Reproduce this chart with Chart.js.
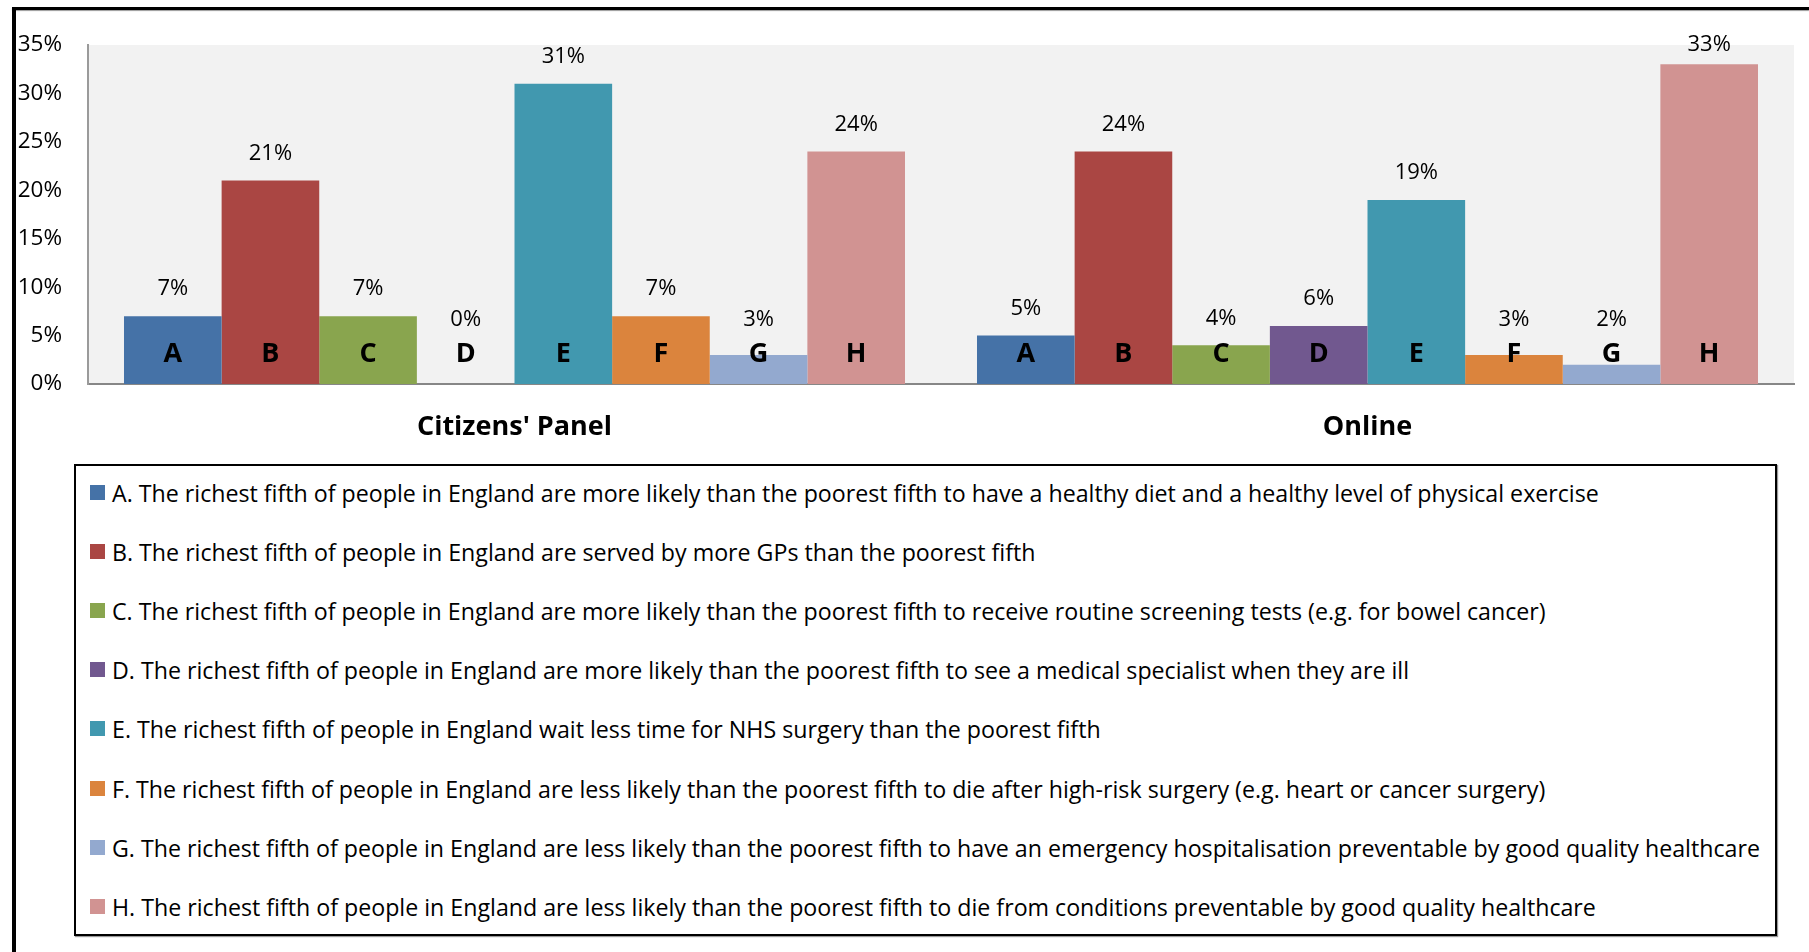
<!DOCTYPE html>
<html>
<head>
<meta charset="utf-8">
<script src="https://cdn.jsdelivr.net/npm/chart.js@4.4.1/dist/chart.umd.min.js"></script>
<style>
    html, body { margin: 0; padding: 0; background: #fff; }
    body { width: 1809px; height: 952px; position: relative; overflow: hidden; font-family: 'Open Sans', sans-serif; }
    #frame-top { position: absolute; left: 12px; top: 7px; width: 1797px; height: 3px; background: #000; box-shadow: 0 1px 1px #999; }
    #frame-left { position: absolute; left: 12px; top: 7px; width: 4px; height: 945px; background: #000; }
    #chart-box { position: absolute; left: 0; top: 0; width: 1809px; height: 460px; }
    #legend { position: absolute; left: 74px; top: 464px; width: 1699px; height: 468px; border: 2px solid #000; box-shadow: 1px 1px 1px #999; }
    .legend-row { position: absolute; left: 0; height: 30px; line-height: 30px; white-space: nowrap; font-size: 23.2px; color: #000; }
    .legend-row span.box { position: absolute; left: 14px; top: 7px; width: 15px; height: 15px; }
    .legend-row span.txt { position: absolute; left: 36px; top: 0; }
</style>
</head>
<body>
<div id="frame-top"></div>
<div id="frame-left"></div>
<div id="chart-box"><canvas id="chart"></canvas></div>
<div id="legend"></div>
<script>
// Données
const groups = ["Citizens' Panel", 'Online'];
const letters = ['A', 'B', 'C', 'D', 'E', 'F', 'G', 'H'];
const statements = [
    'A. The richest fifth of people in England are more likely than the poorest fifth to have a healthy diet and a healthy level of physical exercise',
    'B. The richest fifth of people in England are served by more GPs than the poorest fifth',
    'C. The richest fifth of people in England are more likely than the poorest fifth to receive routine screening tests (e.g. for bowel cancer)',
    'D. The richest fifth of people in England are more likely than the poorest fifth to see a medical specialist when they are ill',
    'E. The richest fifth of people in England wait less time for NHS surgery than the poorest fifth',
    'F. The richest fifth of people in England are less likely than the poorest fifth to die after high-risk surgery (e.g. heart or cancer surgery)',
    'G. The richest fifth of people in England are less likely than the poorest fifth to have an emergency hospitalisation preventable by good quality healthcare',
    'H. The richest fifth of people in England are less likely than the poorest fifth to die from conditions preventable by good quality healthcare'
];
const citizensPanel = [7, 21, 7, 0, 31, 7, 3, 24];
const online = [5, 24, 4, 6, 19, 3, 2, 33];
const yTicks = [0, 5, 10, 15, 20, 25, 30, 35];
const colors = ['#4572A7', '#AA4643', '#89A54E', '#71588F', '#4198AF', '#DB843D', '#93A9CF', '#D19392'];

const FONT = "'Open Sans', sans-serif";

// fond gris de la zone de tracé
const plotBackground = {
    id: 'plotBackground',
    beforeDraw(chart) {
        const { ctx, chartArea } = chart;
        ctx.save();
        ctx.fillStyle = '#F2F2F2';
        ctx.fillRect(chartArea.left, chartArea.top, chartArea.width, chartArea.height);
        ctx.restore();
    }
};

// étiquettes : valeur au-dessus, lettre dans la barre
const barLabels = {
    id: 'barLabels',
    afterDatasetsDraw(chart) {
        const { ctx, chartArea } = chart;
        ctx.save();
        ctx.textAlign = 'center';
        ctx.textBaseline = 'middle';
        ctx.fillStyle = '#000';
        chart.data.datasets.forEach((ds, i) => {
            chart.getDatasetMeta(i).data.forEach((bar, j) => {
                const yVal = Math.max(chartArea.top, Math.min(bar.y - 27, chartArea.bottom - 64));
                ctx.font = `22px ${FONT}`;
                ctx.fillText(ds.data[j] + '%', bar.x, yVal);
                ctx.font = `bold 27px ${FONT}`;
                ctx.fillText(ds.label, bar.x, chartArea.bottom - 30);
            });
        });
        ctx.restore();
    }
};

new Chart(document.getElementById('chart'), {
    type: 'bar',
    data: {
        labels: groups,
        datasets: letters.map((letter, i) => ({
            label: letter,
            data: [citizensPanel[i], online[i]],
            backgroundColor: colors[i],
            borderWidth: 0
        }))
    },
    options: {
        responsive: true,
        maintainAspectRatio: false,
        animation: false,
        events: [],
        layout: { padding: { top: 45, right: 15, left: 0, bottom: 0 } },
        datasets: { bar: { barPercentage: 1, categoryPercentage: 0.9156 } },
        plugins: {
            legend: { display: false },
            tooltip: { enabled: false }
        },
        scales: {
            x: {
                grid: { display: false, drawTicks: false },
                border: { display: true, color: '#878787', width: 2 },
                ticks: { color: '#000', padding: 27, font: { family: FONT, size: 27, weight: 'bold' } },
                afterFit: s => { s.height = 76; }
            },
            y: {
                min: 0,
                max: 35,
                afterBuildTicks: s => { s.ticks = yTicks.map(v => ({ value: v })); },
                grid: { display: false, drawTicks: false },
                border: { display: true, color: '#9A9A9A', width: 2 },
                ticks: { color: '#000', padding: 26, font: { family: FONT, size: 22.5 }, callback: v => v + '%' },
                afterFit: s => { s.width = 88; }
            }
        }
    },
    plugins: [plotBackground, barLabels]
});

// légende
const legendEl = document.getElementById('legend');
statements.forEach((text, i) => {
    const row = document.createElement('div');
    row.className = 'legend-row';
    row.style.top = (493 - 466 - 15 + i * 59.1) + 'px';
    const box = document.createElement('span');
    box.className = 'box';
    box.style.background = colors[i];
    const txt = document.createElement('span');
    txt.className = 'txt';
    txt.textContent = text;
    row.appendChild(box);
    row.appendChild(txt);
    legendEl.appendChild(row);
});
</script>
</body>
</html>
